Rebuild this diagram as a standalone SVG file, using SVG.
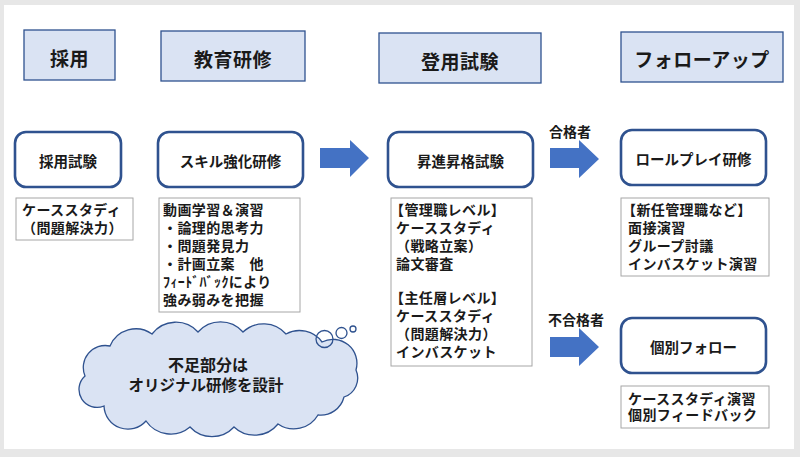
<svg xmlns="http://www.w3.org/2000/svg" width="800" height="457" viewBox="0 0 800 457">
<defs>
<style>
text{font-family:"Noto Sans CJK JP","Noto Sans",sans-serif;font-weight:700;fill:#1a1a1a}
.hdr rect{fill:#dae3f3;stroke:#2f528f;stroke-width:1.3}
.hdr text{font-size:19px;text-anchor:middle;dominant-baseline:central;letter-spacing:0.5px}
.rb rect{fill:#fff;stroke:#2f528f;stroke-width:2.6}
.rb text{font-size:14.5px;text-anchor:middle;dominant-baseline:central}
.tb rect{fill:#fff;stroke:#a6a6a6;stroke-width:1}
.tb text{font-size:14px;letter-spacing:0.4px}
.arr{fill:#4472c4}
.lbl{font-size:14px;text-anchor:middle;dominant-baseline:central}
</style>
</defs>
<rect x="0" y="0" width="800" height="457" fill="#e7e7e7"/>
<rect x="4" y="5" width="790" height="444" fill="#ffffff"/>

<g id="h-saiyo" class="hdr"><rect x="24" y="30" width="91" height="50"/><text x="69.5" y="57">採用</text></g>
<g id="h-kyoiku" class="hdr"><rect x="161" y="31" width="144" height="50"/><text x="233" y="58">教育研修</text></g>
<g id="h-toyo" class="hdr"><rect x="379" y="33" width="162" height="50"/><text x="460" y="60">登用試験</text></g>
<g id="h-follow" class="hdr"><rect x="621" y="32" width="162" height="50"/><text x="702" y="58">フォローアップ</text></g>

<g id="n-saiyoshiken" class="rb"><rect x="15" y="132" width="106" height="55" rx="11"/><text x="68" y="160">採用試験</text></g>
<g id="n-skill" class="rb"><rect x="158" y="132" width="145" height="55" rx="11"/><text x="230.5" y="160">スキル強化研修</text></g>
<g id="n-shoshin" class="rb"><rect x="388" y="132" width="145" height="55" rx="11"/><text x="460.5" y="160">昇進昇格試験</text></g>
<g id="n-roleplay" class="rb"><rect x="621" y="130" width="145" height="55" rx="11"/><text x="693.5" y="158">ロールプレイ研修</text></g>
<g id="n-kobetsu" class="rb"><rect x="621" y="318" width="145" height="55" rx="11"/><text x="693.5" y="346">個別フォロー</text></g>

<g id="t-case" class="tb"><rect x="16" y="198" width="117" height="42"/>
<text><tspan x="22" y="215">ケーススタディ</tspan><tspan x="22" y="233">（問題解決力）</tspan></text></g>

<g id="t-doga" class="tb"><rect x="159" y="198" width="141" height="114"/>
<text><tspan x="163" y="215">動画学習＆演習</tspan><tspan x="163" y="233">・論理的思考力</tspan><tspan x="163" y="251">・問題発見力</tspan><tspan x="163" y="269">・計画立案　他</tspan><tspan x="163" y="287">ﾌｨｰﾄﾞﾊﾞｯｸにより</tspan><tspan x="163" y="305">強み弱みを把握</tspan></text></g>

<g id="t-kanri" class="tb"><rect x="391" y="198" width="141" height="168"/>
<text><tspan x="390" y="215">【管理職レベル】</tspan><tspan x="396" y="233">ケーススタディ</tspan><tspan x="396" y="251">（戦略立案）</tspan><tspan x="396" y="269">論文審査</tspan><tspan x="390" y="303">【主任層レベル】</tspan><tspan x="396" y="321">ケーススタディ</tspan><tspan x="396" y="339">（問題解決力）</tspan><tspan x="396" y="357">インバスケット</tspan></text></g>

<g id="t-shinnin" class="tb"><rect x="621" y="198" width="148" height="78"/>
<text><tspan x="622" y="215">【新任管理職など】</tspan><tspan x="628" y="233">面接演習</tspan><tspan x="628" y="251">グループ討議</tspan><tspan x="628" y="269">インバスケット演習</tspan></text></g>

<g id="t-casestudy" class="tb"><rect x="621" y="386" width="148" height="42"/>
<text><tspan x="628" y="404">ケーススタディ演習</tspan><tspan x="628" y="420">個別フィードバック</tspan></text></g>

<g id="cloud">
<path d="M85 376 A22 22 0 0 1 110 346 A28 28 0 0 1 152 334 A30 30 0 0 1 198 332 A30 30 0 0 1 243 332 A30 30 0 0 1 286 334 A28 28 0 0 1 322 342 A24 24 0 0 1 356 370 A20 20 0 0 1 344 397 A24 24 0 0 1 318 415 A28 28 0 0 1 278 424 A30 30 0 0 1 234 427 A30 30 0 0 1 190 427 A30 30 0 0 1 146 421 A24 24 0 0 1 104 406 A18 18 0 0 1 85 376 Z" fill="#dae3f3" stroke="#2f528f" stroke-width="1.3"/>
<circle cx="324.5" cy="339" r="8.5" fill="none" stroke="#2f528f" stroke-width="1.3"/>
<circle cx="341.5" cy="333" r="5.5" fill="#fff" stroke="#2f528f" stroke-width="1.3"/>
<circle cx="353" cy="329" r="3" fill="#fff" stroke="#2f528f" stroke-width="1.3"/>
<text font-size="16" text-anchor="middle"><tspan x="208" y="371">不足部分は</tspan><tspan x="206" y="391" font-size="15.5">オリジナル研修を設計</tspan></text>
</g>

<g id="connectors">
<polygon class="arr" points="320,148 350,148 350,140 369,158 350,177 350,168 320,168"/>
<polygon class="arr" points="550,148 579,148 579,140 599,159 579,178 579,168 550,168"/>
<polygon class="arr" points="550,337 579,337 579,328 599,347 579,366 579,357 550,357"/>
<text class="lbl" x="570" y="131">合格者</text>
<text class="lbl" x="576" y="319">不合格者</text>
</g>
</svg>
